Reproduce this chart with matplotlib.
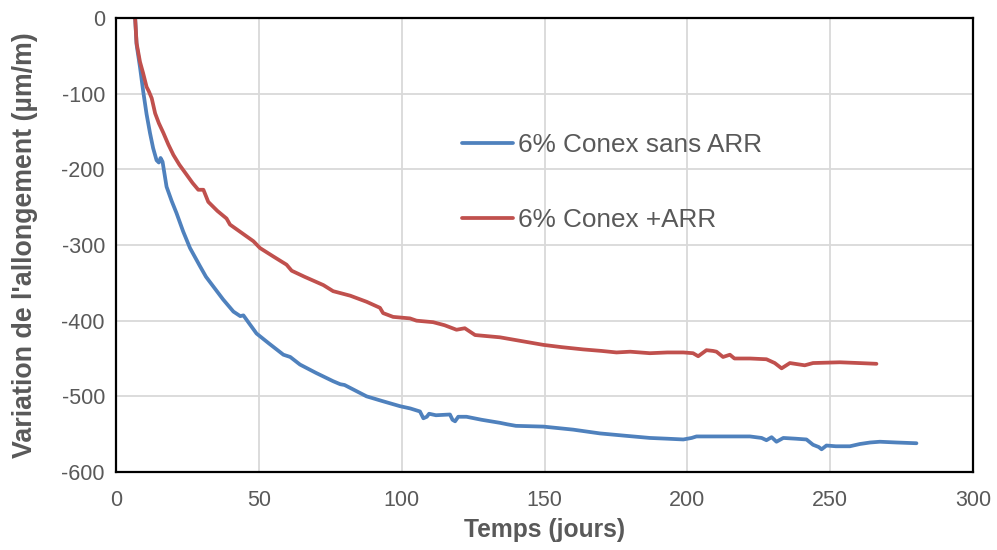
import matplotlib
matplotlib.use("Agg")
import matplotlib.pyplot as plt

# Shrinkage of mortar bars: elongation change vs. time
days_sans = [6.7, 7.2, 8.4, 9.6, 10.7, 11.9, 13.0, 14.2, 15.0, 15.6, 16.3, 17.7, 19.5, 21.2,
             23.5, 25.9, 29.4, 31.5, 34.1, 37.5, 41.1, 43.5, 44.6, 46.5, 49.2, 53.5, 58.6,
             61.0, 64.4, 70.0, 76.0, 78.5, 80.0, 87.7, 93.0, 99.4, 103.0, 106.4, 107.6,
             108.8, 109.6, 112.0, 116.9, 117.8, 118.7, 119.8, 122.7, 128.0, 134.4, 137.0,
             140.0, 149.6, 160.0, 169.4, 178.0, 186.9, 193.0, 198.6, 201.5, 203.2, 208.0,
             214.9, 221.9, 226.0, 227.7, 229.5, 231.2, 233.6, 238.0, 241.7, 244.0, 246.0,
             247.0, 248.7, 252.0, 256.9, 260.4, 264.0, 267.4, 273.2, 280.2]
vals_sans = [0, -35, -65, -99, -127, -152, -172, -188, -191, -185, -190, -223, -242, -258,
             -282, -304, -328, -342, -355, -372, -388, -394, -393, -403, -417, -430, -445,
             -448, -458, -469, -480, -484, -485, -500, -506, -513, -516, -520, -529,
             -527, -523, -525, -524, -531, -533, -527, -527, -531, -535, -537,
             -539, -540, -544, -549, -552, -555, -556, -557, -555, -553, -553,
             -553, -553, -555, -558, -554, -560, -555, -556, -557, -564, -567,
             -570, -565, -566, -566, -563, -561, -560, -561, -562]

days_arr = [6.7, 7.2, 8.4, 9.5, 10.7, 11.5, 12.5, 13.7, 15.0, 16.6, 18.3, 20.1, 22.2, 24.7,
            26.8, 28.8, 30.6, 32.3, 35.5, 38.7, 39.9, 44.0, 48.1, 50.4, 55.0, 59.7, 61.5,
            66.0, 72.6, 76.0, 82.0, 87.7, 92.4, 93.5, 97.0, 102.9, 105.2, 111.0, 115.0,
            119.2, 122.1, 125.7, 134.4, 142.0, 149.6, 156.0, 163.6, 170.0, 175.2, 180.0,
            186.9, 193.0, 198.6, 202.0, 203.8, 206.7, 209.0, 210.2, 212.5, 214.9, 216.5,
            222.0, 227.7, 230.6, 233.0, 235.9, 241.1, 244.0, 253.4, 260.0, 266.2]
vals_arr = [0, -33, -58, -73, -91, -97, -106, -126, -139, -152, -167, -181, -194, -207,
            -218, -227, -227, -243, -255, -265, -273, -284, -295, -304, -315, -326, -334,
            -342, -353, -361, -367, -375, -383, -390, -395, -397, -400, -402, -406,
            -412, -410, -419, -422, -427, -432, -435, -438, -440, -442, -441,
            -443, -442, -442, -443, -447, -439, -440, -441, -448, -445, -450,
            -450, -451, -456, -463, -456, -459, -456, -455, -456, -457]

labels = ["6% Conex sans ARR", "6% Conex +ARR"]
colors = ["#4F81BD", "#C0504D"]
x_ticks = [0, 50, 100, 150, 200, 250, 300]
y_ticks = [0, -100, -200, -300, -400, -500, -600]

plt.rcParams["font.family"] = ["Liberation Sans", "DejaVu Sans"]
plt.rcParams["axes.unicode_minus"] = False
text_col = "#595959"

fig = plt.figure(figsize=(9.97, 5.5), dpi=100)
ax = fig.add_axes([116 / 997, 78 / 550, 857 / 997, 454 / 550])

ax.plot(days_sans, vals_sans, color=colors[0], lw=2.7, label=labels[0],
        solid_joinstyle="round", solid_capstyle="round")
ax.plot(days_arr, vals_arr, color=colors[1], lw=2.7, label=labels[1],
        solid_joinstyle="round", solid_capstyle="round")

ax.set_xlim(0, 300)
ax.set_ylim(-600, 0)
ax.set_xticks(x_ticks)
ax.set_yticks(y_ticks)
ax.grid(True, color="#D9D9D9", lw=1.3)
ax.set_axisbelow(True)
ax.tick_params(length=0, labelsize=15.5, labelcolor=text_col)
ax.tick_params(axis="x", pad=13)
ax.tick_params(axis="y", pad=8)
for s in ax.spines.values():
    s.set_color("black")
    s.set_linewidth(1.6)

ax.set_xlabel("Temps (jours)", fontsize=17.7, fontweight="bold", color=text_col, labelpad=5)
ax.set_ylabel("Variation de l'allongement (µm/m)", fontsize=19.3, fontweight="bold",
              color=text_col)
ax.yaxis.set_label_coords(-0.091, 0.5)

ax.legend(loc="upper left", bbox_to_anchor=(462 / 997, 417 / 550),
          bbox_transform=fig.transFigure, frameon=False, fontsize=18.8,
          handlelength=1.95, handletextpad=0.2, labelspacing=1.95,
          borderpad=0, borderaxespad=0, labelcolor=text_col)

fig.savefig("out.png", dpi=100)
